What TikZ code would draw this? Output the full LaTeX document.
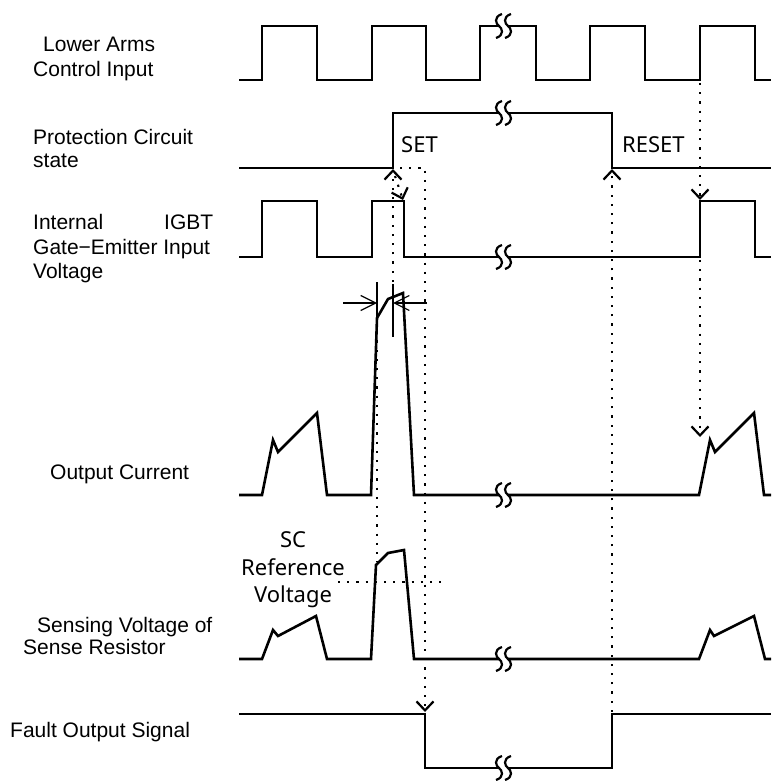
\documentclass[tikz,border=0pt]{standalone}
\usepackage{fontspec}
\setmainfont{Liberation Sans}
\newfontfamily\notefont{Noto Sans}
\usetikzlibrary{arrows.meta}

\begin{document}
\begin{tikzpicture}[x=1pt, y=-1pt,
  sig/.style={line width=2.6pt},
  dots/.style={line width=2.2pt, dash pattern=on 2.2pt off 7pt},
  darrow/.style={-{Straight Barb[length=9pt,width=17pt]}},
  dim/.style={line width=1.2pt},
  dimarrow/.style={-{Straight Barb[length=15pt,width=15pt]}},
  lbl/.style={font=\fontsize{21}{25}\selectfont, anchor=base west, inner sep=0pt},
  note/.style={font=\notefont\fontsize{22}{27}\selectfont, inner sep=0pt},
  brk/.pic={
    \draw[line width=2.2pt] (3,-12) .. controls (-6,-9) and (-3,-2) .. (0,0) .. controls (3,2) and (6,9) .. (-3,12);
    \draw[line width=2.2pt] (12,-12) .. controls (3,-9) and (6,-2) .. (9,0) .. controls (12,2) and (15,9) .. (6,12);
  }]
  \useasboundingbox (0,0) rectangle (771,781);

  % Labels
  \node[lbl] (arm1) at (43,51.5) {Lower Arms};
  \node[lbl] (arm2) at (33,77) {Control Input};
  \node[lbl] (pro1) at (33,144) {Protection Circuit};
  \node[lbl] (pro2) at (33,167) {state};
  \node[lbl] (gat1) at (33,229) {\makebox[180pt]{Internal\hfill IGBT}};
  \node[lbl] (gat2) at (33,254) {Gate−Emitter Input};
  \node[lbl] (gat3) at (33,278) {Voltage};
  \node[lbl] (cur) at (50,479) {Output Current};
  \node[lbl] (sen1) at (37,632) {Sensing Voltage of};
  \node[lbl] (sen2) at (23,654) {Sense Resistor};
  \node[lbl] (flt) at (10,737) {Fault Output Signal};

  \node[note, anchor=base west] (set) at (401,152) {SET};
  \node[note, anchor=base west] (reset) at (622,152) {RESET};
  \node[note, anchor=base] (sc1) at (293,547) {SC};
  \node[note, anchor=base] (sc2) at (293,575) {Reference};
  \node[note, anchor=base] (sc3) at (293,602) {Voltage};

  % Lower arms control input
  \draw[sig] (239,80) -- (262,80) -- (262,26) -- (317,26) -- (317,80) -- (372,80) -- (372,26) -- (426,26) -- (426,80)
    -- (480,80) -- (480,26) -- (499,26);
  \draw[sig] (508,26) -- (536,26) -- (536,80) -- (590,80) -- (590,26) -- (645,26) -- (645,80) -- (700,80) -- (700,26)
    -- (755,26) -- (755,80) -- (771,80);
  \pic at (499,26) {brk};

  % Protection circuit state
  \draw[sig] (239,168) -- (393,168) -- (393,113) -- (499,113);
  \draw[sig] (508,113) -- (612,113) -- (612,168) -- (771,168);
  \pic at (499,113) {brk};

  % Gate-emitter input
  \draw[sig] (239,257) -- (262,257) -- (262,201) -- (317,201) -- (317,257) -- (372,257) -- (372,201) -- (404,201)
    -- (404,257) -- (499,257);
  \draw[sig] (508,257) -- (700,257) -- (700,201) -- (755,201) -- (755,257) -- (771,257);
  \pic at (499,257) {brk};

  % Output current
  \draw[sig] (239,495) -- (262,495) -- (273,440) -- (278,452) -- (317,413) -- (327,495) -- (371,495) -- (377,318)
    -- (388,299) -- (403,293) -- (414,495) -- (499,495);
  \draw[sig] (508,495) -- (699,495) -- (710,440) -- (715,452) -- (754,413) -- (764,495) -- (771,495);
  \pic at (499,495) {brk};

  % Sensing voltage
  \draw[sig] (239,659) -- (262,659) -- (273,630) -- (278,636) -- (316,616) -- (327,659) -- (371,659) -- (376,565)
    -- (388,553) -- (404,550) -- (414,659) -- (499,659);
  \draw[sig] (508,659) -- (699,659) -- (710,630) -- (714,636) -- (754,616) -- (765,659) -- (771,659);
  \pic at (499,659) {brk};

  % Fault output
  \draw[sig] (239,714) -- (425,714) -- (425,768) -- (499,768);
  \draw[sig] (508,768) -- (612,768) -- (612,714) -- (771,714);
  \pic at (499,768) {brk};

  % Timing links
  \draw[dots, darrow] (393,282) -- (393,169);
  \draw[dots, darrow] (395,176) -- (403,200);
  \draw[dots, darrow] (400,168) -- (425,168) -- (425,712);
  \draw[dots, darrow] (612,712) -- (612,169);
  \draw[dots, darrow] (700,83) -- (700,200);
  \draw[dots, darrow] (700,260) -- (700,437);
  \draw[dots] (377,322) -- (377,562);
  \draw[dots] (338,582) -- (448,582);

  % Delay marks
  \draw[dim] (377,282) -- (377,318);
  \draw[dim] (393,284) -- (393,337);
  \draw[dim, dimarrow] (343,303) -- (377,303);
  \draw[dim, dimarrow] (427,303) -- (393,303);
\end{tikzpicture}
\end{document}
